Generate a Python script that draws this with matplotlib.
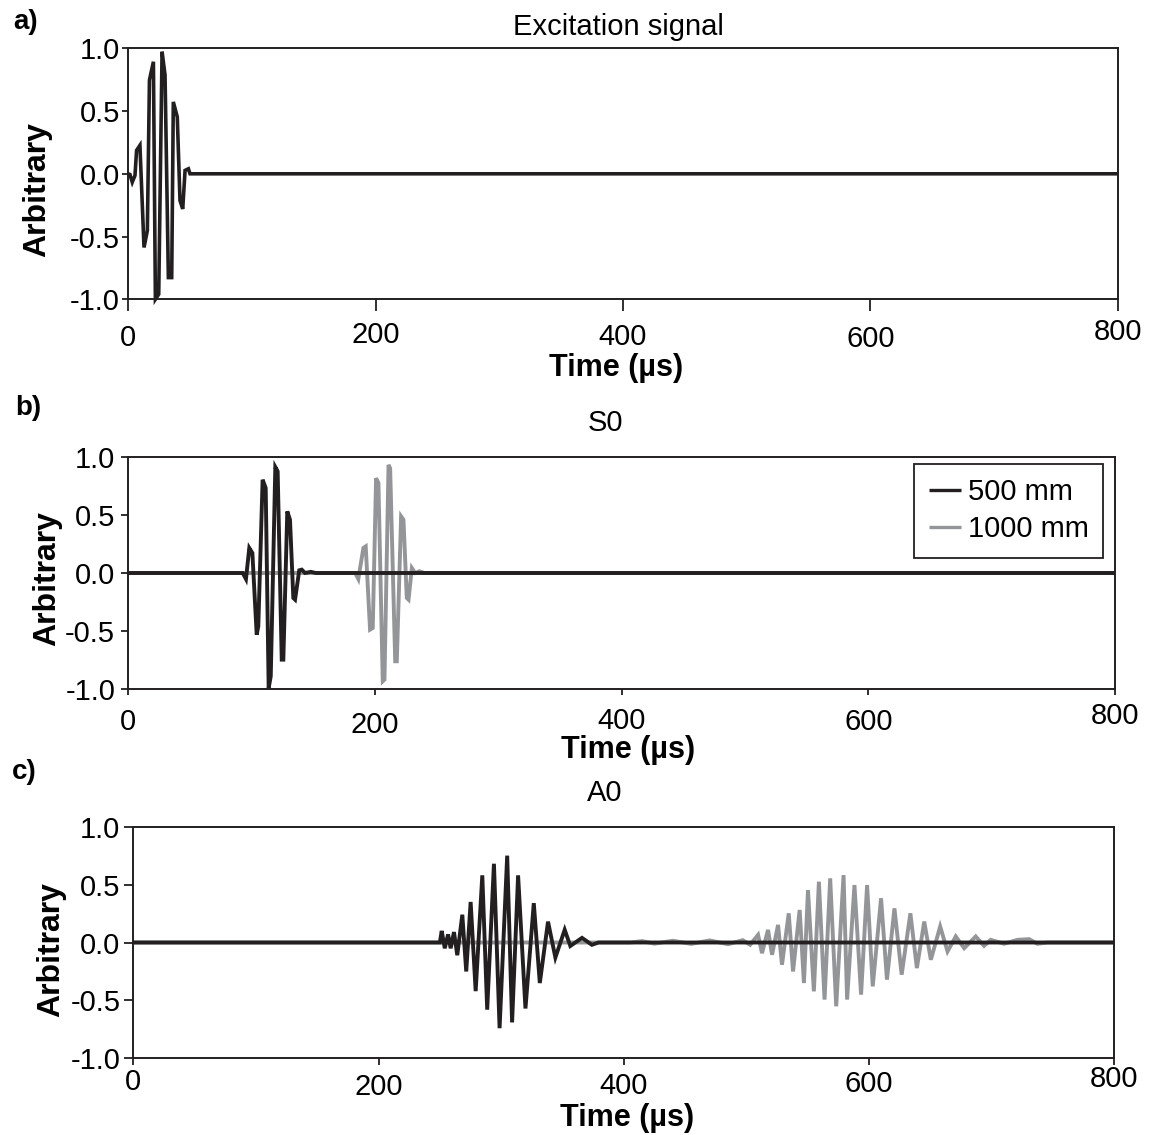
import matplotlib

matplotlib.use("Agg")
import matplotlib.pyplot as plt  # noqa: E402

plt.rcParams["font.family"] = ["Liberation Sans", "DejaVu Sans"]
plt.rcParams["axes.unicode_minus"] = False

# excitation signal (5 cycle toneburst)
t_exc = [0, 1.3, 3.2, 5.4, 6.7, 9.4, 12.7, 15.4, 17.1, 20.3, 21.9, 24.6, 27.3, 29.7,
         32.4, 35.1, 36.4, 39.6, 41.8, 44.0, 45.9, 48.6, 49.9, 800]
a_exc = [0, -0.005, -0.067, -0.013, 0.187, 0.227, -0.587, -0.453, 0.747, 0.893, -1.0,
         -0.96, 0.973, 0.787, -0.827, -0.827, 0.573, 0.453, -0.213, -0.28, 0.027, 0.04, 0, 0]

# S0 mode
t_s0_500 = [0, 92.8, 95.4, 98.1, 100.6, 104.1, 105.4, 108.9, 111.4, 113.8, 115.5, 119.2,
            121.1, 124.4, 125.7, 128.9, 131.1, 133.8, 135.2, 138.6, 140.6, 143.3, 148, 152, 800]
a_s0_500 = [0, 0, -0.052, 0.215, 0.172, -0.530, -0.458, 0.802, 0.731, -0.989, -0.888, 0.911,
            0.874, -0.745, -0.745, 0.530, 0.458, -0.215, -0.229, 0.023, 0.029, 0, 0.01, 0, 0]
t_s0_1000 = [0, 184, 186.5, 190.6, 192.5, 196.0, 198.2, 200.9, 202.8, 206.3, 207.7, 211.0,
             212.3, 216.4, 217.7, 221.2, 223.1, 225.8, 227.2, 229.9, 232.6, 236, 240, 800]
a_s0_1000 = [0, 0, -0.052, 0.215, 0.229, -0.487, -0.473, 0.816, 0.774, -0.931, -0.917, 0.93,
             0.90, -0.759, -0.759, 0.487, 0.458, -0.215, -0.229, 0.043, 0.0, 0.015, 0, 0]

# A0 mode
t_a0_500 = [0, 250, 251.5, 254.0, 256.7, 258.8, 261.5, 264.2, 268.3, 271.5, 275.1, 279.2,
            284.6, 288.6, 294.1, 298.7, 304.9, 308.9, 313.8, 319.8, 326.6, 331.5, 338.2,
            344.2, 351.8, 356.4, 365.9, 374.0, 379.4, 800]
a_a0_500 = [0, 0, 0.10, -0.05, 0.07, -0.05, 0.09, -0.11, 0.24, -0.25, 0.35, -0.42,
            0.58, -0.58, 0.68, -0.74, 0.75, -0.69, 0.58, -0.57, 0.34, -0.35, 0.18,
            -0.13, 0.11, -0.03, 0.04, -0.02, 0, 0]
t_a0_1000 = [0, 405, 415, 425, 440, 455, 470, 485, 497, 503,
             509.5, 512.7, 517.6, 520.9, 525.8, 529.0, 534.5, 538.0, 543.4, 546.9,
             550.2, 555.0, 559.1, 563.7, 568.3, 573.2, 579.2, 582.1, 588.1, 593.5,
             598.4, 603.0, 609.8, 614.6, 620.7, 626.6, 633.7, 639.0, 645.0, 650.4,
             658.0, 664.0, 670.7, 677.6, 687.0, 693.8, 699.2, 710.2, 721.0, 730.5,
             737.3, 745.4, 800]
a_a0_1000 = [0, 0, 0.012, -0.01, 0.015, -0.012, 0.018, -0.015, 0.02, -0.02,
             0.066, -0.092, 0.109, -0.106, 0.152, -0.192, 0.252, -0.250, 0.281, -0.350,
             0.453, -0.422, 0.525, -0.493, 0.554, -0.551, 0.582, -0.493, 0.496, -0.450,
             0.496, -0.379, 0.382, -0.321, 0.295, -0.278, 0.252, -0.221, 0.181, -0.149,
             0.138, -0.077, 0.052, -0.049, 0.052, -0.029, 0.023, -0.011, 0.023, 0.029,
             -0.011, 0, 0]

x_ticks = [0, 200, 400, 600, 800]
y_ticks = [-1.0, -0.5, 0.0, 0.5, 1.0]
y_ticklabels = ["-1.0", "-0.5", "0.0", "0.5", "1.0"]

BLACK = "#231f20"
GREY = "#939598"
W, H, DPI = 1154, 1135, 100

fig = plt.figure(figsize=(W / DPI, H / DPI), dpi=DPI)


def px2pt(v):
    return v * 72 / DPI


def make_axes(left, right, top, bottom):
    return fig.add_axes([left / W, 1 - bottom / H, (right - left) / W, (bottom - top) / H])


def style_axes(ax, box, xlen, ylen, ypad, label_tops, ylab_xy, xlab_xy, title, title_xy):
    left, right, top, bottom = box
    ax_h = bottom - top
    ax.set_xlim(0, 800)
    ax.set_ylim(-1, 1)
    for sp in ax.spines.values():
        sp.set_linewidth(1.4)
        sp.set_color(BLACK)
    ax.set_xticks(x_ticks, [str(v) for v in x_ticks])
    ax.set_yticks(y_ticks, y_ticklabels)
    ax.tick_params(axis="x", direction="out", length=px2pt(xlen), width=1.3, pad=0,
                   labelsize=21, color=BLACK)
    ax.tick_params(axis="y", direction="out", length=px2pt(ylen), width=1.3,
                   pad=px2pt(ypad), labelsize=21, color=BLACK)
    # the tick labels of the original sit at slightly uneven heights
    for tick, top_px in zip(ax.xaxis.get_major_ticks(), label_tops):
        tick.label1.set_y(-(top_px - bottom - xlen) / ax_h)
    ax.set_ylabel("Arbitrary", fontsize=23, fontweight="bold", va="center")
    ax.yaxis.set_label_coords((ylab_xy[0] - left) / (right - left), (bottom - ylab_xy[1]) / ax_h)
    ax.set_xlabel("Time (µs)", fontsize=22, fontweight="bold", va="center")
    ax.xaxis.set_label_coords((xlab_xy[0] - left) / (right - left), (bottom - xlab_xy[1]) / ax_h)
    ax.text((title_xy[0] - left) / (right - left), (bottom - title_xy[1]) / ax_h, title,
            transform=ax.transAxes, ha="center", va="center", fontsize=21)


line_kw = dict(solid_capstyle="butt", solid_joinstyle="miter", clip_on=False)

# a) excitation
box_a = (128.3, 1117.7, 48.3, 299.3)
ax_a = make_axes(*box_a)
ax_a.plot(t_exc, a_exc, color=BLACK, lw=2.6, **line_kw)
style_axes(ax_a, box_a, 12, 6.5, 2, [324, 321, 323, 325, 318],
           (37.5, 190), (616, 368), "Excitation signal", (618, 27))

# b) S0
box_b = (128.3, 1115, 456.7, 689.3)
ax_b = make_axes(*box_b)
ax_b.plot(t_s0_1000, a_s0_1000, color=GREY, lw=2.8, label="1000 mm", **line_kw)
ax_b.plot(t_s0_500, a_s0_500, color=BLACK, lw=2.8, label="500 mm", **line_kw)
style_axes(ax_b, box_b, 6, 6.6, 6.5, [708, 711, 707, 708, 702],
           (47, 579), (628, 750), "S0", (605, 423))
handles, labels = ax_b.get_legend_handles_labels()
leg = ax_b.legend(handles[::-1], labels[::-1], loc="upper right",
                  bbox_to_anchor=(0.988, 0.969), borderaxespad=0, fontsize=21,
                  handlelength=1.1, handletextpad=0.24, borderpad=0.5, labelspacing=0.3,
                  fancybox=False, framealpha=1, edgecolor=BLACK)
leg.get_frame().set_linewidth(1.3)
for ln in leg.get_lines():
    ln.set_linewidth(2.4)

# c) A0
box_c = (133.3, 1114.3, 826.7, 1058.3)
ax_c = make_axes(*box_c)
ax_c.plot(t_a0_1000, a_a0_1000, color=GREY, lw=2.8, **line_kw)
ax_c.plot(t_a0_500, a_a0_500, color=BLACK, lw=2.8, **line_kw)
style_axes(ax_c, box_c, 6.5, 9, 4, [1068, 1073, 1072, 1070, 1065],
           (51, 949.5), (627.5, 1118), "A0", (605, 793))

for letter, (x, y) in zip(["a)", "b)", "c)"], [(13, 22), (15, 408), (12, 772)]):
    fig.text(x / W, 1 - y / H, letter, fontsize=20, fontweight="bold", ha="left", va="center")

fig.savefig("out.png", dpi=DPI)
